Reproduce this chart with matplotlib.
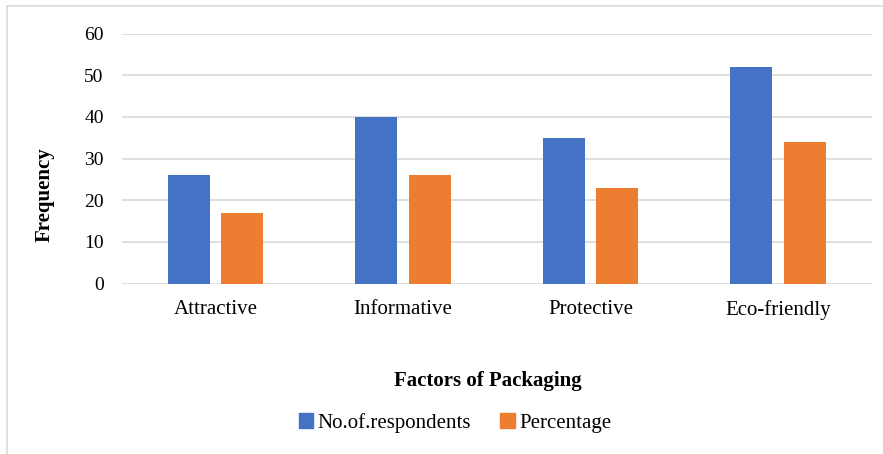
import numpy as np
import matplotlib.pyplot as plt
from matplotlib.patches import Patch
from matplotlib.lines import Line2D

categories = ["Attractive", "Informative", "Protective", "Eco-friendly"]
respondents = [26, 40, 35, 52]
percentage = [17, 26, 23, 34]
yticks = [0, 10, 20, 30, 40, 50, 60]

blue = "#4472C4"
orange = "#ED7D31"

plt.rcParams['font.family'] = ['Liberation Serif', 'DejaVu Serif']

fig = plt.figure(figsize=(8.83, 4.54), dpi=100)
ax = fig.add_axes([121.7 / 883, 1 - 283.5 / 454, 750 / 883, 250 / 454])

x = np.arange(len(categories))
w = 0.224
off = 0.1425
ax.bar(x - off, respondents, w, color=blue, zorder=3)
ax.bar(x + off, percentage, w, color=orange, zorder=3)

ax.set_xlim(-0.5, 3.5)
ax.set_ylim(0, 60)
ax.set_yticks(yticks)
ax.set_xticks(x)
ax.set_xticklabels(categories, fontsize=15)
ax.tick_params(axis='y', labelsize=14, length=0, pad=13)
ax.tick_params(axis='x', length=0, pad=12)
ax.yaxis.grid(True, color="#d9d9d9", linewidth=1.2, zorder=0)
for s in ax.spines.values():
    s.set_visible(False)
ax.set_facecolor("white")

fig.text(45 / 883, 1 - 195 / 454, "Frequency", rotation=90, fontsize=15,
         fontweight='bold', ha='center', va='center')
fig.text(488 / 883, 1 - 381 / 454, "Factors of Packaging", fontsize=15,
         fontweight='bold', ha='center', va='center')

handles = [Patch(color=blue), Patch(color=orange)]
fig.legend(handles, ["No.of.respondents", "Percentage"], loc='center',
           bbox_to_anchor=(455 / 883, 1 - 423 / 454), ncol=2, frameon=False,
           fontsize=15, handlelength=0.7, handleheight=0.7,
           handletextpad=0.2, columnspacing=1.4)

# outer chart border (left and top only visible)
fig.add_artist(Line2D([7.5 / 883, 7.5 / 883], [0, 1 - 5.5 / 454],
                      transform=fig.transFigure, color="#d9d9d9", lw=1.2))
fig.add_artist(Line2D([7.5 / 883, 882.5 / 883], [1 - 5.5 / 454, 1 - 5.5 / 454],
                      transform=fig.transFigure, color="#d9d9d9", lw=1.2))

fig.savefig("out.png", dpi=100)
